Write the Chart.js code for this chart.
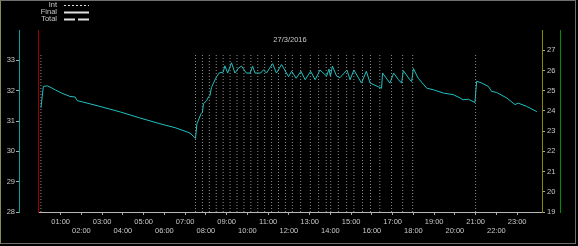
<!DOCTYPE html>
<html>
<head>
<meta charset="utf-8">
<script src="https://cdn.jsdelivr.net/npm/chart.js@4"></script>
<style>
html,body{margin:0;padding:0;background:#000;}
#cadre{width:574px;height:242px;border:1px solid #6e6e6e;border-left-color:#8a8a5a;background:#000;}
canvas{display:block;}
</style>
</head>
<body>
<div id="cadre"><canvas id="myChart" width="574" height="242"></canvas></div>
<script>
const titre = '27/3/2016'
const nomsSeries = ['Int', 'Final', 'Total']

// minutes apres minuit
const tempsFinal = [3, 10, 21, 29, 44, 63, 87, 102, 108, 116, 174, 232, 289, 347, 391, 423, 434, 450,
  454, 460, 466, 470, 473, 482, 488, 492, 496, 502, 511, 519, 530, 535, 543, 554, 564, 574, 583,
  597, 608, 615, 622, 638, 647, 655, 673, 684, 699, 719, 728, 741, 755, 767, 783, 796, 810, 829,
  836, 840, 846, 858, 868, 888, 897, 908, 930, 944, 955, 988, 991, 1012, 1023, 1037, 1046, 1051,
  1070, 1075, 1080, 1094, 1119, 1138, 1167, 1195, 1215, 1224, 1239, 1258, 1263, 1278, 1297, 1306,
  1321, 1350, 1374, 1383, 1408, 1437]
const valeursFinal = [31.44, 32.14, 32.16, 32.12, 32.03, 31.92, 31.81, 31.79, 31.67, 31.65, 31.48, 31.30,
  31.10, 30.91, 30.78, 30.65, 30.60, 30.43,
  30.91, 31.07, 31.24, 31.29, 31.57, 31.67, 31.80, 31.85, 32.10, 32.25, 32.46, 32.59, 32.61, 32.82,
  32.58, 32.92, 32.58, 32.74, 32.81, 32.58, 32.58, 32.81, 32.58, 32.58, 32.69, 32.58, 32.89, 32.58,
  32.86, 32.46, 32.64, 32.41, 32.64, 32.36, 32.64, 32.36, 32.68, 32.48, 32.71, 32.48, 32.81, 32.48,
  32.43, 32.68, 32.36, 32.68, 32.25, 32.64, 32.25, 32.08, 32.58, 32.25, 32.58, 32.36, 32.25, 32.66,
  32.36, 32.30, 32.73, 32.41, 32.08, 32.03, 31.92, 31.87, 31.76, 31.70, 31.72, 31.61, 32.31, 32.25,
  32.14, 31.98, 31.94, 31.76, 31.54, 31.59, 31.48, 31.31]
const tempsInt = [3, 450, 470, 490, 510, 530, 550, 570, 590, 610, 630, 650, 670, 690, 710, 730, 754,
  782, 806, 828, 841, 863, 887, 908, 933, 956, 983, 1017, 1049, 1078, 1260]

const heures = [1, 2, 3, 4, 5, 6, 7, 8, 9, 10, 11, 12, 13, 14, 15, 16, 17, 18, 19, 20, 21, 22, 23]
const ticksGauche = [28, 29, 30, 31, 32, 33]
const ticksDroite = [19, 20, 21, 22, 23, 24, 25, 26, 27]

const intBas = 28
const intHaut = 33.2

const police = {family: 'Liberation Sans', size: 7.5}
const couleurTexte = '#c8c8c8'

const pointsInt = []
tempsInt.forEach(t => {
  pointsInt.push({x: t, y: intBas}, {x: t, y: intHaut}, {x: t, y: null})
})
const pointsFinal = tempsFinal.map((t, i) => ({x: t, y: valeursFinal[i]}))

const legendeMaison = {
  id: 'legendeMaison',
  afterDraw(chart) {
    const ctx = chart.ctx
    ctx.save()
    ctx.font = police.size + 'px ' + police.family
    ctx.fillStyle = couleurTexte
    ctx.textAlign = 'right'
    ctx.textBaseline = 'middle'
    chart.data.datasets.forEach((ds, i) => {
      const y = 4 + i * 7
      ctx.fillText(ds.label, 56, y)
      ctx.strokeStyle = '#e0e0e0'
      ctx.lineWidth = ds.legendeEpaisseur
      ctx.setLineDash(ds.legendeTirets)
      ctx.beginPath()
      ctx.moveTo(63, y + 0.5)
      ctx.lineTo(88, y + 0.5)
      ctx.stroke()
    })
    ctx.setLineDash([])
    ctx.textAlign = 'center'
    const a = chart.chartArea
    ctx.fillText(titre, (a.left + a.right) / 2, 39)
    ctx.restore()
  }
}

const ctx = document.getElementById('myChart')
const graphe = new Chart(ctx, {
  type: 'line',
  data: {
    datasets: [{
      label: nomsSeries[0],
      data: pointsInt,
      yAxisID: 'y',
      borderColor: '#8c8c8c',
      borderWidth: 1,
      borderDash: [1, 2],
      pointRadius: 0,
      spanGaps: false,
      legendeEpaisseur: 1,
      legendeTirets: [2, 2]
    }, {
      label: nomsSeries[1],
      data: pointsFinal,
      yAxisID: 'y',
      borderColor: '#1fc0c0',
      borderWidth: 1,
      pointRadius: 0,
      tension: 0,
      legendeEpaisseur: 2,
      legendeTirets: []
    }, {
      label: nomsSeries[2],
      data: [],
      yAxisID: 'y',
      borderColor: '#e0e0e0',
      borderWidth: 1,
      pointRadius: 0,
      legendeEpaisseur: 2,
      legendeTirets: [11, 3]
    }]
  },
  options: {
    responsive: false,
    animation: false,
    devicePixelRatio: 1,
    layout: {padding: {top: 29, left: 0, right: 0, bottom: 0}},
    plugins: {
      legend: {display: false},
      title: {display: false},
      tooltip: {enabled: false}
    },
    scales: {
      x: {
        type: 'linear',
        min: -5.5,
        max: 1452,
        afterBuildTicks: s => { s.ticks = heures.map(h => ({value: h * 60})) },
        afterFit: s => { s.height = 31 },
        ticks: {
          autoSkip: false,
          maxRotation: 0,
          padding: 2,
          color: couleurTexte,
          font: police,
          callback: v => {
            const h = v / 60
            const txt = String(h).padStart(2, '0') + ':00'
            return h % 2 ? txt : ['', txt]
          }
        },
        grid: {drawOnChartArea: false, color: '#a8a8a8', tickLength: 3},
        border: {color: '#b8b8b8'}
      },
      y: {
        position: 'left',
        weight: 1,
        min: 28,
        max: 34,
        afterBuildTicks: s => { s.ticks = ticksGauche.map(v => ({value: v})) },
        afterFit: s => { s.width = 18 },
        ticks: {color: couleurTexte, font: police, padding: 1},
        grid: {drawOnChartArea: false, color: '#a8a8a8', tickLength: 3},
        border: {color: '#00a4a4'}
      },
      yRouge: {
        position: 'left',
        weight: 0,
        display: true,
        afterFit: s => { s.width = 19 },
        ticks: {display: false},
        grid: {display: false},
        border: {color: '#a00000'}
      },
      yDroite: {
        position: 'right',
        weight: 0,
        min: 19,
        max: 28,
        afterBuildTicks: s => { s.ticks = ticksDroite.map(v => ({value: v})) },
        afterFit: s => { s.width = 18 },
        ticks: {color: couleurTexte, font: police, padding: 2},
        grid: {drawOnChartArea: false, color: '#a8a8a8', tickLength: 3},
        border: {color: '#8a8a00'}
      },
      yVert: {
        position: 'right',
        weight: 1,
        display: true,
        afterFit: s => { s.width = 15 },
        ticks: {display: false},
        grid: {display: false},
        border: {color: '#009000'}
      }
    }
  },
  plugins: [legendeMaison]
});
</script>
</body>
</html>
